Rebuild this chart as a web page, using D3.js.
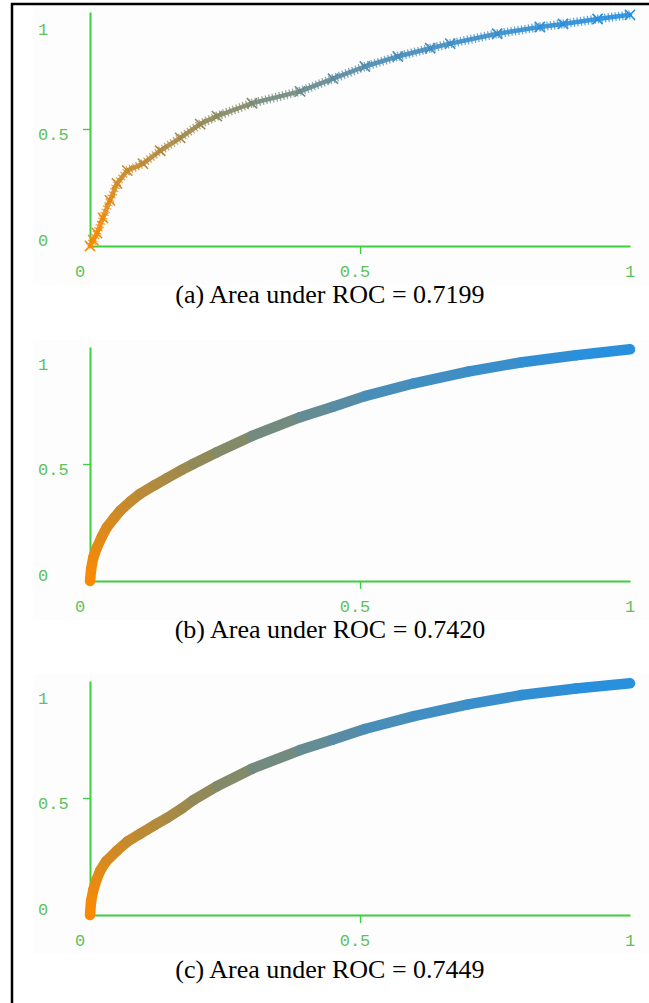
<!DOCTYPE html>
<html>
<head>
<meta charset="utf-8">
<script src="https://cdn.jsdelivr.net/npm/d3@7"></script>
<style>
  html, body { margin: 0; padding: 0; background: #ffffff; }
  svg { display: block; }
</style>
</head>
<body>
<svg id="chart" width="649" height="1003"></svg>
<script>
// ---------------- data ----------------
const panelIds = ["a", "b", "c"];
const captions = [
  "(a) Area under ROC = 0.7199",
  "(b) Area under ROC = 0.7420",
  "(c) Area under ROC = 0.7449"
];
const tickValues = [0, 0.5, 1];
const tickLabels = ["0", "0.5", "1"];

const fprA = [0, 0.006, 0.013, 0.024, 0.037, 0.05, 0.069, 0.098, 0.13, 0.167, 0.204, 0.235, 0.30, 0.389, 0.45, 0.509, 0.57, 0.63, 0.667, 0.754, 0.833, 0.876, 0.94, 1.0];
const tprA = [0, 0.025, 0.055, 0.12, 0.195, 0.267, 0.322, 0.352, 0.407, 0.462, 0.521, 0.555, 0.61, 0.661, 0.715, 0.767, 0.81, 0.845, 0.865, 0.907, 0.936, 0.949, 0.97, 0.988];

const fprB = [0, 0.002, 0.006, 0.013, 0.022, 0.031, 0.045, 0.056, 0.075, 0.093, 0.12, 0.143, 0.17, 0.191, 0.235, 0.30, 0.389, 0.45, 0.509, 0.6, 0.7, 0.8, 0.9, 1.0];
const tprB = [0, 0.05, 0.10, 0.144, 0.19, 0.229, 0.27, 0.301, 0.34, 0.373, 0.41, 0.44, 0.475, 0.50, 0.55, 0.62, 0.70, 0.745, 0.79, 0.845, 0.895, 0.935, 0.965, 0.99];

const fprC = [0, 0.002, 0.006, 0.012, 0.019, 0.03, 0.05, 0.07, 0.093, 0.12, 0.143, 0.17, 0.191, 0.235, 0.30, 0.389, 0.45, 0.509, 0.6, 0.7, 0.8, 0.9, 1.0];
const tprC = [0, 0.06, 0.106, 0.15, 0.19, 0.23, 0.275, 0.315, 0.347, 0.385, 0.415, 0.455, 0.49, 0.55, 0.625, 0.705, 0.75, 0.795, 0.85, 0.9, 0.94, 0.968, 0.99];

const seriesFpr = [fprA, fprB, fprC];
const seriesTpr = [tprA, tprB, tprC];

// ---------------- drawing ----------------
const svg = d3.select("#chart");
const panelTop = [0, 335, 669];
const captionY = [303, 303, 309];
const axisColor = "#3ccf3c";
const labelColor = "#5cc25c";

const colorScale = d3.scaleLinear()
  .domain([0, 0.3, 0.6, 1])
  .range(["#ff8a00", "#8c8a5c", "#4a8db8", "#2490e2"])
  .interpolate(d3.interpolateRgb);

panelIds.forEach((id, i) => {
  const g = svg.append("g").attr("transform", `translate(0,${panelTop[i]})`);

  // faint screenshot background
  g.append("rect")
    .attr("x", 33).attr("y", 5).attr("width", 616).attr("height", 280)
    .attr("fill", "#fdfdfd");

  const x = d3.scaleLinear().domain([0, 1]).range([90, 630]);
  const y = d3.scaleLinear().domain([0, 1]).range([246, 12]);
  const xLab = d3.scaleLinear().domain([0, 1]).range([80, 630]);
  const yLab = d3.scaleLinear().domain([0, 1]).range([245.5, 34.5]);

  // axes
  const xAxis = d3.axisBottom(x).tickValues([0.5]).tickSize(8).tickSizeOuter(0).tickFormat("");
  const yAxis = d3.axisLeft(y).tickValues([0.5]).tickSize(7).tickSizeOuter(0).tickFormat("");
  const gx = g.append("g").attr("transform", `translate(0,${y(0)})`).call(xAxis);
  const gy = g.append("g").attr("transform", `translate(${x(0)},0)`).call(yAxis);
  [gx, gy].forEach(a => {
    a.select(".domain").attr("stroke", axisColor).attr("stroke-width", 2);
    a.selectAll(".tick line").attr("stroke", axisColor).attr("stroke-width", 1.3);
  });

  // tick labels
  g.selectAll("text.xl").data(tickValues).join("text")
    .attr("class", "xl")
    .attr("x", d => xLab(d)).attr("y", 277)
    .attr("text-anchor", "middle")
    .attr("font-family", "Liberation Mono, DejaVu Sans Mono, monospace")
    .attr("font-size", 17).attr("fill", labelColor)
    .text((d, k) => tickLabels[k]);
  g.selectAll("text.yl").data(tickValues).join("text")
    .attr("class", "yl")
    .attr("x", 38).attr("y", d => yLab(d))
    .attr("text-anchor", "start")
    .attr("font-family", "Liberation Mono, DejaVu Sans Mono, monospace")
    .attr("font-size", 17).attr("fill", labelColor)
    .text((d, k) => tickLabels[k]);

  // curve
  const pts = seriesFpr[i].map((f, k) => [x(f), y(seriesTpr[i][k])]);
  const cum = [0];
  for (let k = 1; k < pts.length; k++) {
    cum.push(cum[k - 1] + Math.hypot(pts[k][0] - pts[k - 1][0], pts[k][1] - pts[k - 1][1]));
  }
  const total = cum[cum.length - 1];
  const segs = d3.range(pts.length - 1).map(k => ({
    a: pts[k], b: pts[k + 1], t: (cum[k] + cum[k + 1]) / 2 / total
  }));
  const curve = g.append("g");
  if (i === 0) {
    curve.selectAll("line.base").data(segs).join("line")
      .attr("class", "base")
      .attr("x1", d => d.a[0]).attr("y1", d => d.a[1])
      .attr("x2", d => d.b[0]).attr("y2", d => d.b[1])
      .attr("stroke", d => colorScale(d.t))
      .attr("stroke-width", 4.5).attr("stroke-linecap", "round").attr("opacity", 0.9);
    curve.selectAll("line.tex").data(segs).join("line")
      .attr("class", "tex")
      .attr("x1", d => d.a[0]).attr("y1", d => d.a[1])
      .attr("x2", d => d.b[0]).attr("y2", d => d.b[1])
      .attr("stroke", d => colorScale(d.t))
      .attr("stroke-width", 9).attr("stroke-linecap", "butt")
      .attr("stroke-dasharray", "1.3,2.2").attr("opacity", 0.75);
    curve.selectAll("path.m").data(pts).join("path")
      .attr("class", "m")
      .attr("transform", d => `translate(${d[0]},${d[1]})`)
      .attr("d", d3.symbol(d3.symbolTimes, 70))
      .attr("fill", "none")
      .attr("stroke", (d, k) => colorScale(cum[k] / total))
      .attr("stroke-width", 1.6);
  } else {
    curve.selectAll("line").data(segs).join("line")
      .attr("x1", d => d.a[0]).attr("y1", d => d.a[1])
      .attr("x2", d => d.b[0]).attr("y2", d => d.b[1])
      .attr("stroke", d => colorScale(d.t))
      .attr("stroke-width", 10.5).attr("stroke-linecap", "round");
  }

  // caption
  g.append("text")
    .attr("x", 330).attr("y", captionY[i])
    .attr("text-anchor", "middle")
    .attr("font-family", "Liberation Serif, Times New Roman, serif")
    .attr("font-size", 26).attr("fill", "#000")
    .text(captions[i]);
});

// outer frame (top and left edges visible)
svg.append("line").attr("x1", 11).attr("x2", 649).attr("y1", 4).attr("y2", 4)
  .attr("stroke", "#000").attr("stroke-width", 2.5);
svg.append("line").attr("x1", 12).attr("x2", 12).attr("y1", 3).attr("y2", 1003)
  .attr("stroke", "#000").attr("stroke-width", 2.5);
</script>
</body>
</html>
